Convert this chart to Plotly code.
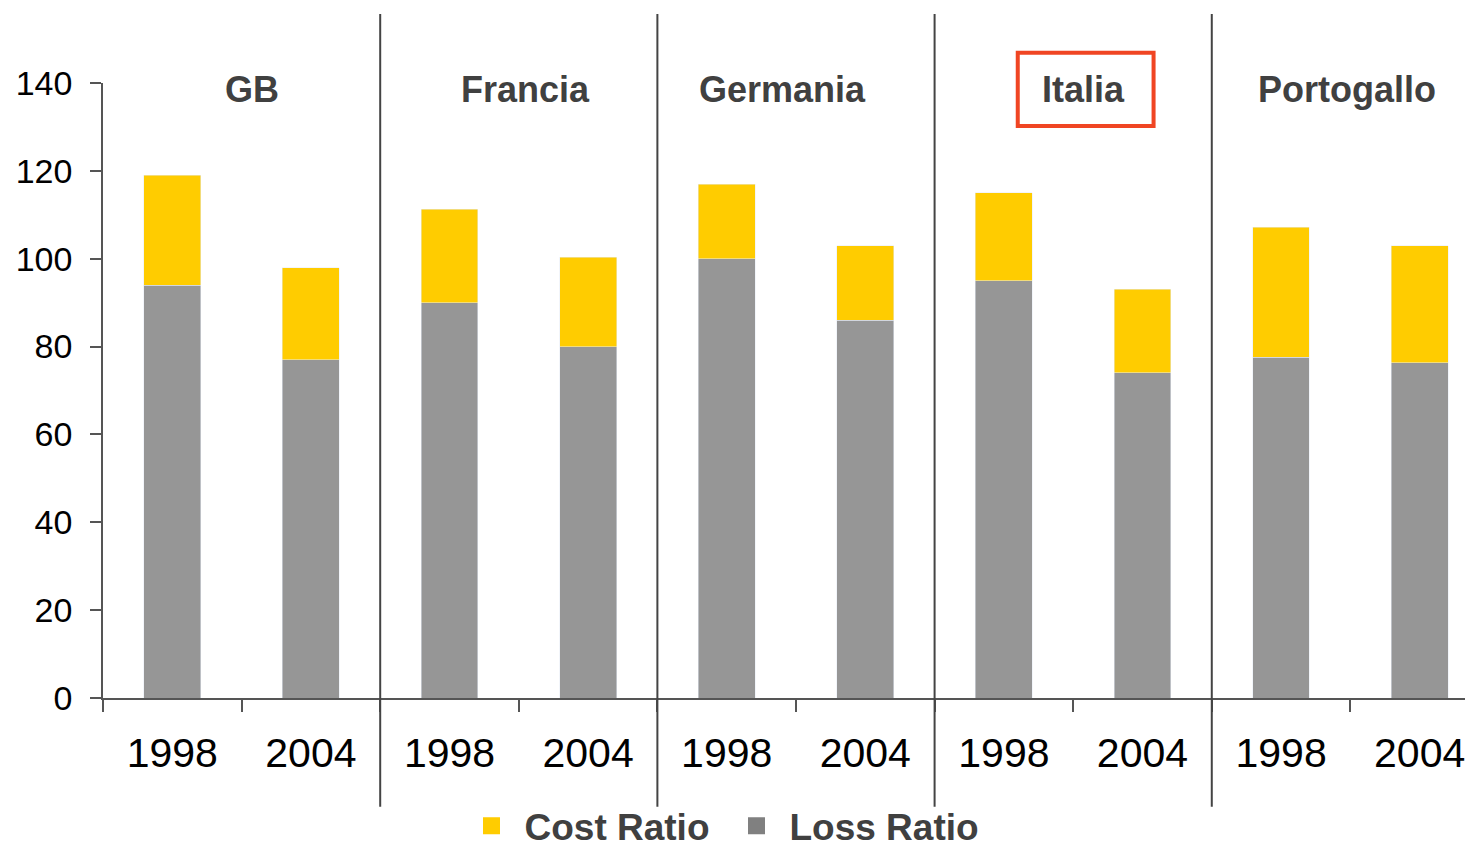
import plotly.graph_objects as go

countries = ["GB", "Francia", "Germania", "Italia", "Portogallo"]
years = ["1998", "2004"]
# per bar, in order GB98, GB04, Francia98, ...
loss_ratio = [94, 77, 90, 80, 100, 86, 95, 74, 77.6, 76.3]
cost_ratio = [25, 21, 21.3, 20.3, 17, 17, 20, 19, 29.6, 26.6]
tick_labels = [y for c in countries for y in years]

YELLOW = "#FFCC00"
GRAY = "#969696"
LEG_GRAY = "#808080"
DARK = "#404040"
FONT = "Liberation Sans, Arial, sans-serif"

xs = list(range(len(tick_labels)))

fig = go.Figure()
fig.add_trace(go.Bar(x=xs, y=loss_ratio, marker_color=GRAY, width=0.41,
                     name="Loss Ratio", showlegend=False))
fig.add_trace(go.Bar(x=xs, y=cost_ratio, marker_color=YELLOW, width=0.41,
                     name="Cost Ratio", showlegend=False))
# legend entries
fig.add_trace(go.Bar(x=[None], y=[None], name="<b>Cost Ratio</b>",
                     marker=dict(color=YELLOW, line=dict(color=YELLOW, width=5))))
fig.add_trace(go.Bar(x=[None], y=[None], name="<b>Loss Ratio</b>",
                     marker=dict(color=LEG_GRAY, line=dict(color=LEG_GRAY, width=5))))

shapes = []
for k in range(1, len(countries)):
    shapes.append(dict(type="line", xref="x", yref="paper", x0=2 * k - 0.5, x1=2 * k - 0.5,
                       y0=-0.177, y1=1.112, line=dict(color="#444444", width=2)))
# highlight box around Italia
shapes.append(dict(type="rect", xref="x", yref="paper", x0=6.10, x1=7.08, y0=0.930, y1=1.049,
                   line=dict(color="#F04523", width=4)))

label_x = [0.575, 2.545, 4.40, 6.578, 8.475]
annotations = []
for c, lx in zip(countries, label_x):
    annotations.append(dict(text=f"<b>{c}</b>", x=lx, y=0.989, xref="x", yref="paper",
                            showarrow=False, font=dict(family=FONT, size=36, color=DARK),
                            xanchor="center", yanchor="middle"))

fig.update_layout(
    width=1457, height=846,
    barmode="stack",
    plot_bgcolor="white", paper_bgcolor="white",
    margin=dict(l=95, r=0, t=75, b=156),
    shapes=shapes, annotations=annotations,
    showlegend=True,
    legend=dict(orientation="h", x=0.261, y=0.033, xref="paper", yref="container",
                xanchor="left", yanchor="middle", bgcolor="rgba(0,0,0,0)",
                font=dict(family=FONT, size=37, color=DARK), traceorder="normal",
                itemwidth=56, entrywidth=194, entrywidthmode="pixels"),
    font=dict(family=FONT),
)
fig.update_xaxes(
    range=[-0.5, 9.327], tickmode="array", tickvals=xs, ticktext=tick_labels,
    ticks="", tickfont=dict(family=FONT, size=41, color="black"),
    ticklabelstandoff=18, ticklabeloverflow="allow",
    showline=True, linecolor="#555555", linewidth=1.5, showgrid=False, zeroline=False,
    minor=dict(tickmode="linear", tick0=-0.5, dtick=1, ticks="outside", ticklen=12,
               tickcolor="#555555", tickwidth=1.5, showgrid=False),
)
fig.update_yaxes(
    range=[0, 140], tickmode="linear", tick0=0, dtick=20,
    ticks="outside", ticklen=11, tickcolor="#555555", tickwidth=1.5,
    tickfont=dict(family=FONT, size=34, color="black"), ticklabelstandoff=11,
    showline=True, linecolor="#555555", linewidth=1.5, showgrid=False, zeroline=False,
)

fig.write_html("out.html")
